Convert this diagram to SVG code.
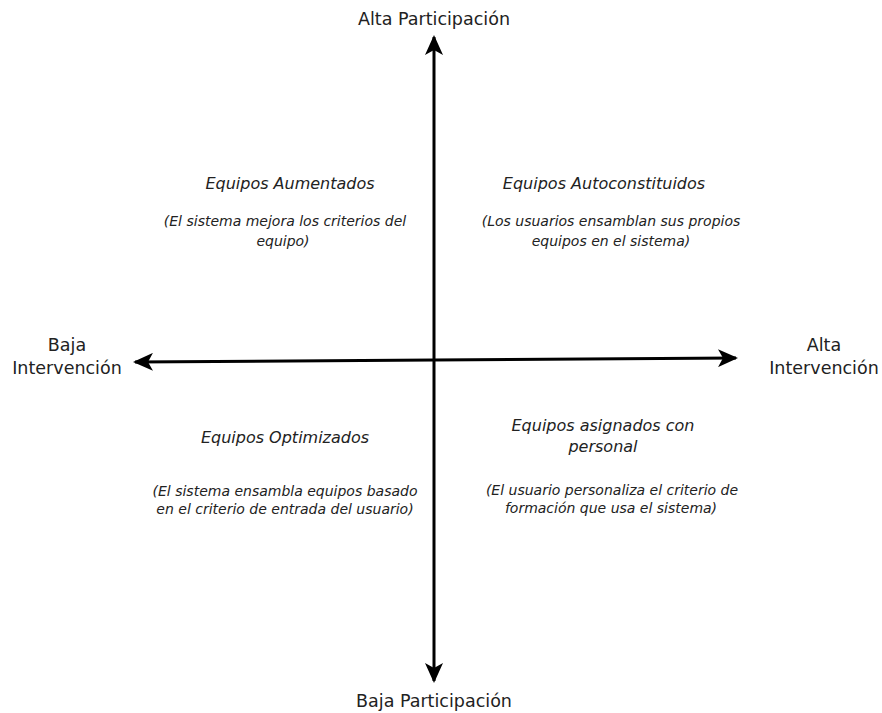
<svg xmlns="http://www.w3.org/2000/svg" width="882" height="713" viewBox="0 0 882 713">
  <style>
    text { font-family: "DejaVu Sans", Verdana, sans-serif; fill: #222; text-anchor: middle; }
    .axis-label { font-size: 17.5px; }
    .title { font-size: 16px; font-style: italic; }
    .desc { font-size: 14px; font-style: italic; }
    .axis { stroke: #000; stroke-width: 3; fill: none; }
  </style>
  <defs>
    <marker id="arrow" viewBox="0 0 20 18" refX="18" refY="9" markerWidth="20" markerHeight="18" markerUnits="userSpaceOnUse" orient="auto">
      <path d="M0,0 L20,9 L0,18 L5,9 Z" fill="#000"/>
    </marker>
  </defs>

  <rect width="882" height="713" fill="#fff"/>

  <!-- quadrant axes -->
  <g id="connectors">
    <line class="axis" x1="434" y1="360" x2="434" y2="37" marker-end="url(#arrow)"/>
    <line class="axis" x1="434" y1="360" x2="434" y2="681" marker-end="url(#arrow)"/>
    <line class="axis" x1="434" y1="360" x2="135" y2="362" marker-end="url(#arrow)"/>
    <line class="axis" x1="434" y1="360" x2="736" y2="358" marker-end="url(#arrow)"/>
  </g>

  <!-- axis labels -->
  <g id="alta-participacion">
    <text class="axis-label" x="434" y="25">Alta Participación</text>
  </g>
  <g id="baja-participacion">
    <text class="axis-label" x="434" y="707">Baja Participación</text>
  </g>
  <g id="baja-intervencion">
    <text class="axis-label" x="67" y="351">Baja</text>
    <text class="axis-label" x="67" y="374">Intervención</text>
  </g>
  <g id="alta-intervencion">
    <text class="axis-label" x="824" y="351">Alta</text>
    <text class="axis-label" x="824" y="374">Intervención</text>
  </g>

  <!-- quadrants -->
  <g id="equipos-aumentados">
    <text class="title" x="290" y="189">Equipos Aumentados</text>
    <text class="desc" x="285" y="226">(El sistema mejora los criterios del</text>
    <text class="desc" x="283" y="246">equipo)</text>
  </g>
  <g id="equipos-autoconstituidos">
    <text class="title" x="604" y="189">Equipos Autoconstituidos</text>
    <text class="desc" x="611" y="226">(Los usuarios ensamblan sus propios</text>
    <text class="desc" x="611" y="246">equipos en el sistema)</text>
  </g>
  <g id="equipos-optimizados">
    <text class="title" x="285" y="443">Equipos Optimizados</text>
    <text class="desc" x="285" y="496">(El sistema ensambla equipos basado</text>
    <text class="desc" x="285" y="514">en el criterio de entrada del usuario)</text>
  </g>
  <g id="equipos-asignados">
    <text class="title" x="603" y="431">Equipos asignados con</text>
    <text class="title" x="603" y="452">personal</text>
    <text class="desc" x="612" y="495">(El usuario personaliza el criterio de</text>
    <text class="desc" x="611" y="513">formación que usa el sistema)</text>
  </g>
</svg>
